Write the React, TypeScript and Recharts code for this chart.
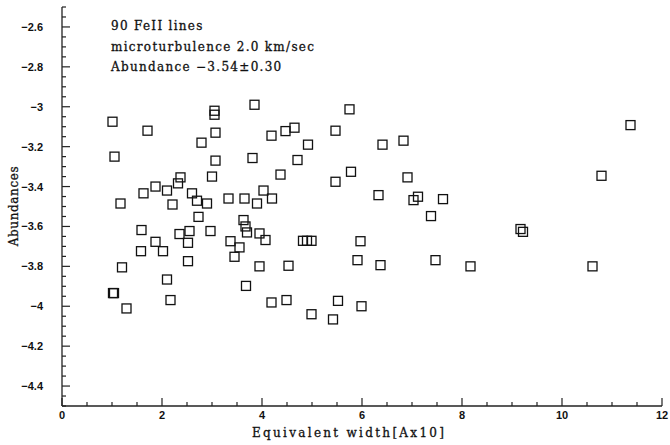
import React from 'react'
import { ScatterChart, Scatter, XAxis, YAxis } from 'recharts'

// equivalent width [Ax10] and abundance per FeII line
const eqWidth = [
  1.01, 1.05, 1.71, 1.17, 1.63, 1.87, 2.10, 2.21, 2.32, 2.37,
  2.60, 2.70, 2.90, 2.79, 3.00, 3.05, 3.05, 3.07, 3.07, 3.33,
  3.65, 3.90, 4.03, 4.20, 3.85, 3.81, 4.19, 5.75, 4.47, 4.65,
  5.47, 4.92, 6.41, 6.83, 4.71, 4.37, 5.47, 5.78, 6.91, 6.33,
  7.03, 7.12, 7.62, 11.37, 10.79, 2.73, 1.59, 2.35, 2.55, 2.97,
  3.63, 3.67, 3.70, 3.95, 4.07, 1.87, 2.52, 3.37, 3.55, 1.58,
  2.02, 3.45, 2.52, 1.20, 3.95, 2.10, 3.68, 1.02, 1.04, 2.17,
  1.29, 4.19, 4.82, 4.90, 4.99, 5.97, 7.38, 4.53, 5.91, 6.37,
  7.47, 4.49, 5.52, 4.99, 5.42, 5.99, 8.17, 9.17, 9.22, 10.61,
]
const abundance = [
  -3.075, -3.25, -3.12, -3.485, -3.434, -3.40, -3.42, -3.49, -3.384, -3.354,
  -3.434, -3.471, -3.485, -3.18, -3.35, -3.02, -3.04, -3.13, -3.27, -3.46,
  -3.46, -3.485, -3.42, -3.46, -2.99, -3.257, -3.145, -3.013, -3.122, -3.105,
  -3.12, -3.19, -3.19, -3.17, -3.267, -3.34, -3.376, -3.326, -3.354, -3.443,
  -3.468, -3.451, -3.463, -3.092, -3.346, -3.552, -3.618, -3.638, -3.623, -3.623,
  -3.568, -3.60, -3.63, -3.635, -3.668, -3.677, -3.682, -3.674, -3.705, -3.724,
  -3.724, -3.752, -3.774, -3.805, -3.80, -3.866, -3.898, -3.934, -3.934, -3.969,
  -4.011, -3.981, -3.672, -3.672, -3.672, -3.674, -3.548, -3.797, -3.769, -3.794,
  -3.769, -3.969, -3.973, -4.04, -4.066, -4.0, -3.80, -3.613, -3.627, -3.80,
]

const xMajor = [0, 2, 4, 6, 8, 10, 12]
const yMajor = [-4.4, -4.2, -4, -3.8, -3.6, -3.4, -3.2, -3, -2.8, -2.6]

const notes = ['90 FeII lines', 'microturbulence 2.0 km/sec', 'Abundance \u22123.54\u00b10.30']

const data = eqWidth.map((x, i) => ({ x, y: abundance[i] }))

const xTicks: number[] = []
for (let i = 0; i <= 24; i++) xTicks.push(i * 0.5)
const yTicks: number[] = []
for (let i = 0; i <= 40; i++) yTicks.push(Math.round((-4.5 + i * 0.05) * 100) / 100)

const isMajorX = (v: number) => xMajor.some((m) => Math.abs(m - v) < 1e-6)
const isMajorY = (v: number) => yMajor.some((m) => Math.abs(m - v) < 1e-6)
const fmt = (v: number) => String(v).replace('-', '\u2212')

const AX = '#222'
const tickFont = { fontFamily: '"Liberation Sans", Arial, sans-serif', fontWeight: 700, fontSize: 11 }
const serif = '"DejaVu Serif", serif'
const serifText: React.CSSProperties = {
  position: 'absolute', fontFamily: serif, fontSize: 12, lineHeight: '14px', color: '#111',
  whiteSpace: 'nowrap', WebkitTextStroke: '0.3px #111',
}

const BottomTick = (p: any) => {
  const v = p.payload.value
  const major = isMajorX(v)
  return (
    <g>
      <line x1={p.x} x2={p.x} y1={p.y} y2={p.y - (major ? 8 : 4)} stroke={AX} strokeWidth={1.2} />
      {major && (
        <text x={p.x} y={p.y + 13} textAnchor="middle" fill="#111" style={tickFont}>
          {fmt(v)}
        </text>
      )}
    </g>
  )
}
const TopTick = (p: any) => {
  const major = isMajorX(p.payload.value)
  return <line x1={p.x} x2={p.x} y1={p.y} y2={p.y + (major ? 8 : 4)} stroke={AX} strokeWidth={1.2} />
}
const LeftTick = (p: any) => {
  const v = p.payload.value
  const major = isMajorY(v)
  return (
    <g>
      <line x1={p.x} x2={p.x + (major ? 8 : 4)} y1={p.y} y2={p.y} stroke={AX} strokeWidth={1.2} />
      {major && (
        <text x={p.x - 19} y={p.y + 4} textAnchor="end" fill="#111" style={tickFont}>
          {fmt(v)}
        </text>
      )}
    </g>
  )
}
const RightTick = (p: any) => {
  const major = isMajorY(p.payload.value)
  return <line x1={p.x} x2={p.x - (major ? 8 : 4)} y1={p.y} y2={p.y} stroke={AX} strokeWidth={1.2} />
}

const Square = (p: any) => (
  <rect x={p.cx - 4.5} y={p.cy - 4.5} width={9} height={9} fill="none" stroke="#111" strokeWidth={1.3} />
)

export default function App() {
  return (
    <div style={{ position: 'absolute', left: 0, top: 0, width: 670, height: 445, background: '#fff' }}>
      <ScatterChart width={670} height={445} margin={{ top: 7, right: 8, bottom: 0, left: 0 }}>
        <XAxis
          xAxisId="b" dataKey="x" type="number" domain={[0, 12]} ticks={xTicks} interval={0}
          height={39} tickSize={0} tickMargin={0} tickLine={false} tick={<BottomTick />}
          axisLine={{ stroke: AX, strokeWidth: 1.3 }} allowDataOverflow
        />
        <XAxis
          xAxisId="t" orientation="top" type="number" domain={[0, 12]} ticks={xTicks} interval={0}
          height={0} tickSize={0} tickMargin={0} tickLine={false} tick={<TopTick />}
          axisLine={{ stroke: AX, strokeWidth: 1.3 }} allowDataOverflow
        />
        <YAxis
          yAxisId="l" dataKey="y" type="number" domain={[-4.5, -2.5]} ticks={yTicks} interval={0}
          width={62} tickSize={0} tickMargin={0} tickLine={false} tick={<LeftTick />}
          axisLine={{ stroke: AX, strokeWidth: 1.3 }} allowDataOverflow
        />
        <YAxis
          yAxisId="r" orientation="right" type="number" domain={[-4.5, -2.5]} ticks={yTicks} interval={0}
          width={0} tickSize={0} tickMargin={0} tickLine={false} tick={<RightTick />}
          axisLine={{ stroke: AX, strokeWidth: 1.3 }} allowDataOverflow
        />
        <Scatter data={data} xAxisId="b" yAxisId="l" shape={<Square />} isAnimationActive={false} />
      </ScatterChart>
      {notes.map((t, i) => (
        <div key={i} style={{ ...serifText, left: 111, top: 19 + i * 20.5, letterSpacing: 1.3 }}>
          {t}
        </div>
      ))}
      <div style={{ ...serifText, left: 252, top: 426, letterSpacing: 2.3 }}>
        Equivalent width[Ax10]
      </div>
      <div
        style={{
          ...serifText, left: 14, top: 206, letterSpacing: 0.6,
          transform: 'translate(-50%, -50%) rotate(-90deg)',
        }}
      >
        Abundances
      </div>
    </div>
  )
}
